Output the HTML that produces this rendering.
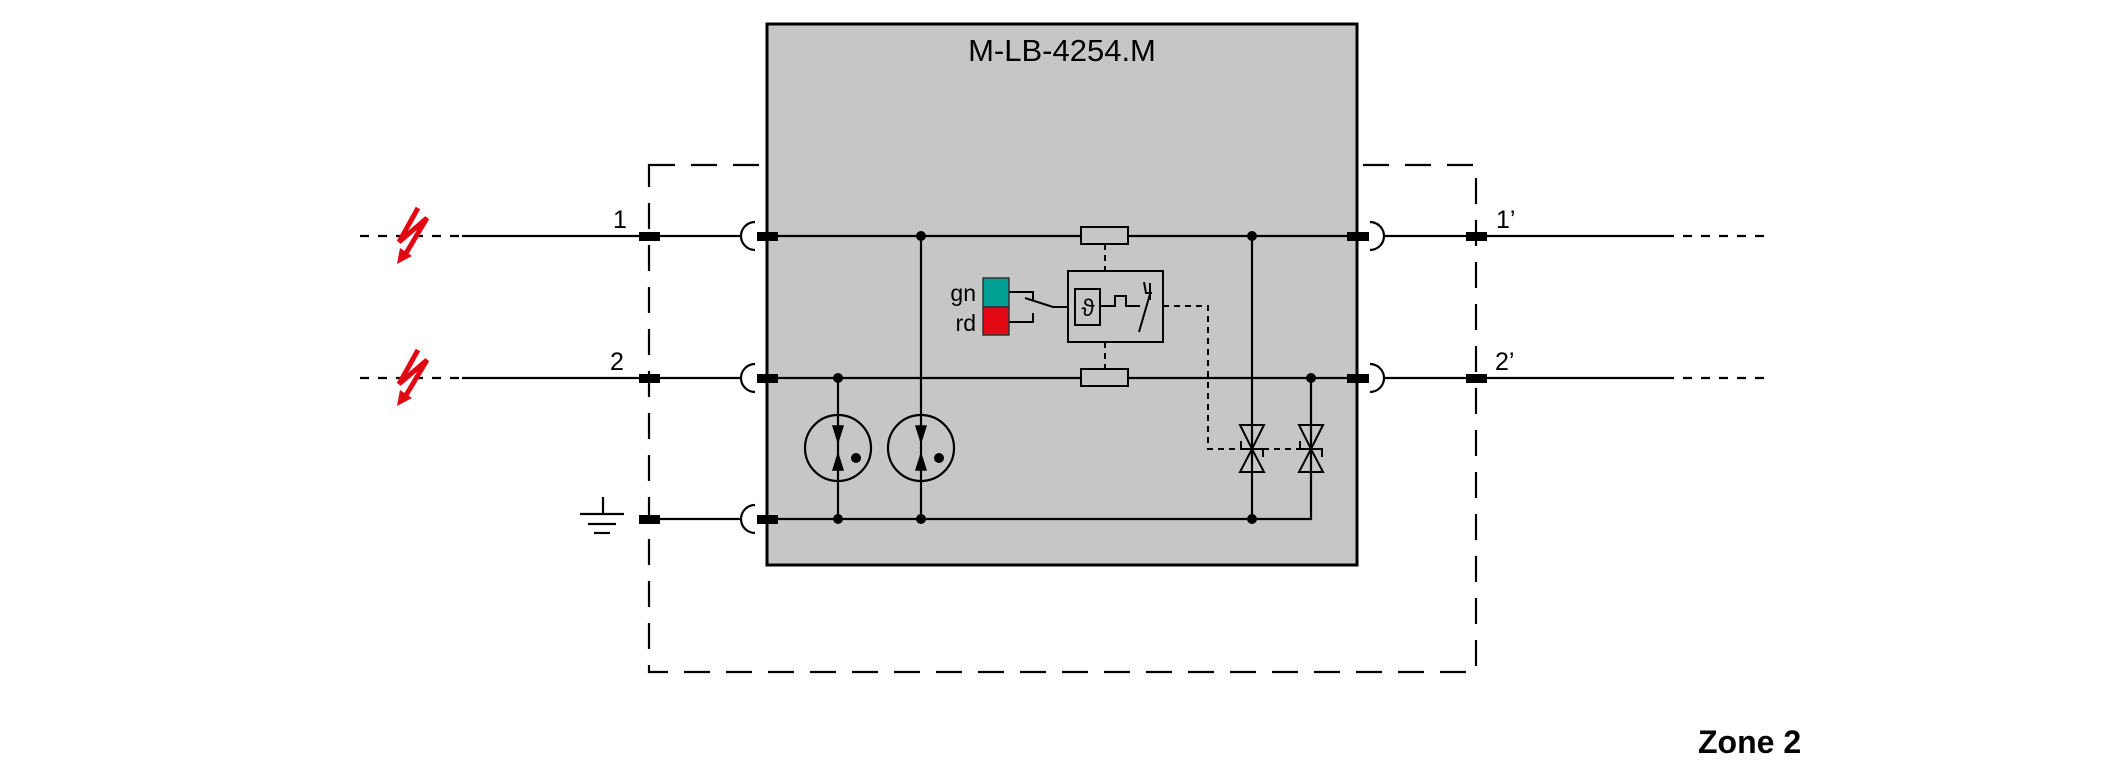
<!DOCTYPE html>
<html><head><meta charset="utf-8"><style>html,body{margin:0;padding:0;background:#fff;}svg{display:block}</style></head>
<body>
<svg width="2126" height="780" viewBox="0 0 2126 780" xmlns="http://www.w3.org/2000/svg" font-family="Liberation Sans, Arial, sans-serif">
<rect x="649" y="165" width="827" height="507" fill="none" stroke="#000" stroke-width="2.2" stroke-dasharray="26,16"/>
<rect x="767" y="24" width="590" height="541" fill="#c6c6c6" stroke="#000" stroke-width="3"/>
<text x="1062" y="61" font-size="31" text-anchor="middle">M-LB-4254.M</text>
<g stroke="#000" stroke-width="2.2" fill="none">
<line x1="360" y1="236" x2="462" y2="236" stroke-dasharray="9,9"/>
<line x1="462" y1="236" x2="742" y2="236"/>
<line x1="360" y1="378" x2="462" y2="378" stroke-dasharray="9,9"/>
<line x1="462" y1="378" x2="742" y2="378"/>
<line x1="649" y1="519" x2="742" y2="519"/>
<path d="M755,222 A14,14 0 0 0 755,250"/>
<path d="M755,364 A14,14 0 0 0 755,392"/>
<path d="M755,505 A14,14 0 0 0 755,533"/>
<path d="M1370,222 A14,14 0 0 1 1370,250"/>
<path d="M1370,364 A14,14 0 0 1 1370,392"/>
<line x1="1384" y1="236" x2="1665" y2="236"/>
<line x1="1665" y1="236" x2="1767" y2="236" stroke-dasharray="9,9"/>
<line x1="1384" y1="378" x2="1665" y2="378"/>
<line x1="1665" y1="378" x2="1767" y2="378" stroke-dasharray="9,9"/>
<line x1="778" y1="236" x2="1347" y2="236"/>
<line x1="778" y1="378" x2="1347" y2="378"/>
<polyline points="778,519 1311,519 1311,378"/>
<line x1="921" y1="236" x2="921" y2="519"/>
<line x1="838" y1="378" x2="838" y2="519"/>
<line x1="1252" y1="236" x2="1252" y2="519"/>
<line x1="603" y1="497" x2="603" y2="514"/>
<line x1="580" y1="514" x2="624" y2="514"/>
<line x1="588" y1="524" x2="616" y2="524"/>
<line x1="594" y1="533" x2="610" y2="533"/>
<circle cx="838" cy="448" r="33"/>
<circle cx="921" cy="448" r="33"/>
</g>
<rect x="1081" y="227" width="47" height="17" fill="#c6c6c6" stroke="#000" stroke-width="2"/>
<rect x="1081" y="369" width="47" height="17" fill="#c6c6c6" stroke="#000" stroke-width="2"/>
<g stroke="#000" stroke-width="2" fill="none" stroke-dasharray="6,5">
<line x1="1105" y1="244" x2="1105" y2="271"/>
<line x1="1105" y1="342" x2="1105" y2="369"/>
<polyline points="1163,306 1208,306 1208,449 1252,449"/>
<line x1="1252" y1="449" x2="1311" y2="449"/>
</g>
<g stroke="#000" stroke-width="2" fill="none">
<rect x="1068" y="271" width="95" height="71"/>
<rect x="1075" y="289" width="25" height="36"/>
<polyline points="1100,306 1115,306 1115,296 1126,296 1126,306 1140,306"/>
<line x1="1139" y1="332" x2="1150" y2="294"/>
<polyline points="1144,282 1146,293 1152,293"/>
<line x1="1150" y1="283" x2="1150" y2="300"/>
<polyline points="1009,292 1033,292 1033,300"/>
<polyline points="1009,322 1033,322 1033,313"/>
<polyline points="1025,298 1053,307 1068,307"/>
</g>
<text x="1088" y="316" font-size="24" text-anchor="middle">ϑ</text>
<rect x="983" y="278" width="26" height="29" fill="#009f94" stroke="#333" stroke-width="1.5"/>
<rect x="983" y="307" width="26" height="28" fill="#e30613" stroke="#333" stroke-width="1.5"/>
<text x="976" y="301" font-size="23" text-anchor="end">gn</text>
<text x="976" y="331" font-size="23" text-anchor="end">rd</text>
<g fill="#000" stroke="#000" stroke-width="1.5">
<path d="M833,426 L843,426 L838,442 Z"/>
<path d="M833,470 L843,470 L838,454 Z"/>
<path d="M916,426 L926,426 L921,442 Z"/>
<path d="M916,470 L926,470 L921,454 Z"/>
<circle cx="856" cy="458" r="5" stroke="none"/>
<circle cx="939" cy="458" r="5" stroke="none"/>
</g>
<g stroke="#000" stroke-width="2" fill="none">
<path d="M1240,425 L1264,425 L1252,449 Z"/>
<path d="M1240,472 L1264,472 L1252,449 Z"/>
<polyline points="1241,441 1241,449 1263,449 1263,457"/>
<path d="M1299,425 L1323,425 L1311,449 Z"/>
<path d="M1299,472 L1323,472 L1311,449 Z"/>
<polyline points="1300,441 1300,449 1322,449 1322,457"/>
</g>
<g fill="#000">
<circle cx="921" cy="236" r="5"/><circle cx="1252" cy="236" r="5"/>
<circle cx="838" cy="378" r="5"/><circle cx="1311" cy="378" r="5"/>
<circle cx="838" cy="519" r="5"/><circle cx="921" cy="519" r="5"/><circle cx="1252" cy="519" r="5"/>
<rect x="639" y="232" width="21" height="9"/><rect x="639" y="374" width="21" height="9"/><rect x="639" y="515" width="21" height="9"/>
<rect x="757" y="232" width="21" height="9"/><rect x="757" y="374" width="21" height="9"/><rect x="757" y="515" width="21" height="9"/>
<rect x="1347" y="232" width="22" height="9"/><rect x="1347" y="374" width="22" height="9"/>
<rect x="1466" y="232" width="21" height="9"/><rect x="1466" y="374" width="21" height="9"/>
</g>
<!-- lightning -->
<g stroke="#e30613" stroke-width="5" fill="none" stroke-linejoin="miter">
<polyline points="418,208 399,242 427,218 405,255"/>
<polyline points="418,350 399,384 427,360 405,397"/>
</g>
<g fill="#e30613">
<path d="M397,264 L400,248 L412,256 Z"/>
<path d="M397,406 L400,390 L412,398 Z"/>
</g>
<g font-size="25">
<text x="613" y="228">1</text>
<text x="610" y="370">2</text>
<text x="1496" y="228">1’</text>
<text x="1495" y="370">2’</text>
</g>
<text x="1698" y="753" font-size="32" font-weight="bold">Zone 2</text>
</svg>
</body></html>
